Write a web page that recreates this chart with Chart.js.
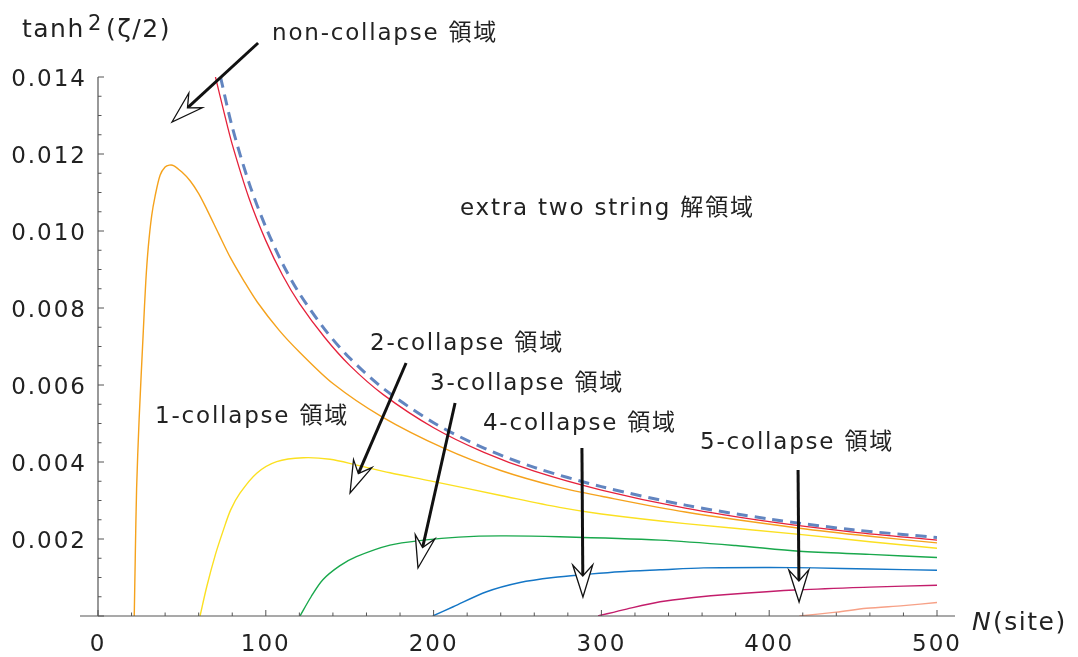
<!DOCTYPE html>
<html>
<head>
<meta charset="utf-8">
<script src="https://cdn.jsdelivr.net/npm/chart.js@4.4.1/dist/chart.umd.min.js"></script>
<style>
  html, body { margin: 0; padding: 0; background: #fff; }
  #wrap { width: 1078px; height: 657px; position: relative; }
</style>
</head>
<body>
<div id="wrap"><canvas id="chart"></canvas></div>
<script>
// curves: N (sites) and tanh^2(zeta/2)
const nRed = [70, 75, 80, 90, 100, 110, 120, 135, 150, 170, 200, 230, 260, 300, 350, 400, 450, 500];
const redVals = [0.0140, 0.0131, 0.01225, 0.01085, 0.00975, 0.00885, 0.00812, 0.00724, 0.00651, 0.00575, 0.00489, 0.00425, 0.00376, 0.00327, 0.0028, 0.00245, 0.00218, 0.00197];

const nDash = [73, 80, 90, 100, 110, 120, 135, 150, 170, 200, 230, 260, 300, 350, 400, 450, 500];
const dashVals = [0.0140, 0.0127, 0.01125, 0.0101, 0.00915, 0.00838, 0.00745, 0.0067, 0.00591, 0.00502, 0.00436, 0.00386, 0.00336, 0.00288, 0.00252, 0.00224, 0.00204];

const nOrange = [21.6, 22.2, 23, 24.5, 27, 28.5, 30, 32, 34, 37, 40, 42.5, 45, 50, 55, 60, 65, 72, 79, 87, 95, 108, 120, 140, 169, 206, 240, 275, 300, 350, 418, 460, 500];
const orangeVals = [0, 0.0015, 0.0033, 0.0051, 0.0074, 0.0087, 0.0096, 0.0104, 0.0109, 0.01145, 0.01166, 0.01171, 0.0117, 0.01153, 0.0113, 0.01097, 0.01055, 0.00992, 0.0093, 0.0087, 0.00815, 0.00742, 0.00686, 0.00604, 0.00518, 0.00436, 0.00378, 0.00334, 0.00311, 0.0027, 0.00228, 0.00207, 0.0019];

const nYellow = [60.8, 64.8, 70, 74.7, 79, 84.6, 94.6, 106.5, 122.4, 138.3, 154.2, 174, 198, 240, 275, 300, 350, 418, 460, 500];
const yellowVals = [0, 0.00076, 0.0016, 0.00223, 0.00275, 0.00319, 0.00371, 0.00401, 0.00411, 0.00407, 0.00392, 0.00372, 0.00351, 0.00313, 0.00282, 0.00265, 0.0024, 0.00212, 0.00193, 0.00176];

const nGreen = [120.4, 127, 134, 144, 154, 174, 194, 215, 240, 275, 335, 380, 418, 460, 500];
const greenVals = [0, 0.0005, 0.00094, 0.0013, 0.00154, 0.00184, 0.00197, 0.00205, 0.00208, 0.00206, 0.00197, 0.00183, 0.00168, 0.0016, 0.00152];

const nBlue = [199.5, 211.7, 231.6, 251.5, 271.3, 291, 311, 335, 361, 400, 427, 460, 500];
const blueVals = [0, 0.00024, 0.00063, 0.00087, 0.001, 0.00108, 0.00115, 0.0012, 0.00125, 0.00126, 0.00125, 0.00122, 0.00119];

const nMagenta = [298, 315, 335, 355, 375, 418, 460, 500];
const magentaVals = [0, 0.00018, 0.00037, 0.00048, 0.00056, 0.00068, 0.00075, 0.0008];

const nSalmon = [418, 440, 458, 480, 500];
const salmonVals = [0, 0.0001, 0.0002, 0.00027, 0.00035];

const xTicks = [0, 100, 200, 300, 400, 500];
const yTicks = [0.002, 0.004, 0.006, 0.008, 0.010, 0.012, 0.014];

// region labels and arrows, in data coordinates
const regionLabels = [
    { text: 'non-collapse 領域', x: 103.7, y: 0.01496 },
    { text: 'extra two string 解領域', x: 215.7, y: 0.010416 },
    { text: '2-collapse 領域', x: 162.1, y: 0.006909 },
    { text: '3-collapse 領域', x: 197.9, y: 0.00587 },
    { text: '1-collapse 領域', x: 34.0, y: 0.005013 },
    { text: '4-collapse 領域', x: 229.4, y: 0.004831 },
    { text: '5-collapse 領域', x: 358.8, y: 0.004338 }
];
const arrowTails = [[95.4, 0.014883], [183.6, 0.006571], [212.8, 0.005532], [288.4, 0.004364], [417.2, 0.003792]];
const arrowTips = [[44.1, 0.012831], [150.2, 0.003195], [190.7, 0.001247], [289.0, 0.000494], [417.8, 0.000364]];

const FONT = '"DejaVu Sans", Verdana, "Noto Sans CJK JP", sans-serif';
const INK = '#222';

function pts(xs, ys) {
    return xs.map((x, i) => ({ x: x, y: ys[i] }));
}

function curve(data, color, width, dash) {
    return {
        data: data,
        borderColor: color,
        borderWidth: width,
        borderDash: dash || [],
        pointRadius: 0,
        tension: 0.3,
        fill: false
    };
}

function drawArrow(ctx, x1, y1, x2, y2) {
    const len = Math.hypot(x2 - x1, y2 - y1);
    const ux = (x2 - x1) / len, uy = (y2 - y1) / len;
    const px = -uy, py = ux;
    const headLen = 32, notch = 21, half = 10;
    ctx.strokeStyle = '#111';
    ctx.lineWidth = 3;
    ctx.beginPath();
    ctx.moveTo(x1, y1);
    ctx.lineTo(x2 - ux * notch, y2 - uy * notch);
    ctx.stroke();
    const bx = x2 - ux * headLen, by = y2 - uy * headLen;
    ctx.beginPath();
    ctx.moveTo(x2, y2);
    ctx.lineTo(bx + px * half, by + py * half);
    ctx.lineTo(x2 - ux * notch, y2 - uy * notch);
    ctx.lineTo(bx - px * half, by - py * half);
    ctx.closePath();
    ctx.fillStyle = '#fff';
    ctx.fill();
    ctx.lineWidth = 1.3;
    ctx.stroke();
}

const axesPlugin = {
    id: 'mmaAxes',
    beforeDraw(chart) {
        chart.ctx.letterSpacing = '2px';
    },
    afterDatasetsDraw(chart) {
        const { ctx, scales: { x, y } } = chart;
        const x0 = x.getPixelForValue(0), y0 = y.getPixelForValue(0);
        ctx.save();

        // axis lines, Mathematica style (crossing at origin)
        ctx.strokeStyle = '#555';
        ctx.lineWidth = 1.2;
        ctx.beginPath();
        ctx.moveTo(x0 - 18, y0);
        ctx.lineTo(x.getPixelForValue(500) + 18, y0);
        ctx.moveTo(x0, y0);
        ctx.lineTo(x0, y.getPixelForValue(0.014));
        ctx.stroke();

        // inward ticks: major + minor
        ctx.lineWidth = 1;
        ctx.beginPath();
        for (let v = 0; v <= 500; v += 20) {
            const p = x.getPixelForValue(v);
            const l = v % 100 === 0 ? 6 : 3.5;
            ctx.moveTo(p, y0);
            ctx.lineTo(p, y0 - l);
        }
        for (let k = 0; k <= 28; k++) {
            const p = y.getPixelForValue(k * 0.0005);
            const l = k % 4 === 0 ? 6 : 3.5;
            ctx.moveTo(x0, p);
            ctx.lineTo(x0 + l, p);
        }
        ctx.stroke();

        // arrows
        arrowTails.forEach((t, i) => {
            const h = arrowTips[i];
            drawArrow(ctx, x.getPixelForValue(t[0]), y.getPixelForValue(t[1]),
                x.getPixelForValue(h[0]), y.getPixelForValue(h[1]));
        });

        // region labels
        ctx.fillStyle = INK;
        ctx.letterSpacing = '1.8px';
        ctx.textAlign = 'left';
        ctx.textBaseline = 'alphabetic';
        ctx.font = '23px ' + FONT;
        regionLabels.forEach(l => {
            ctx.fillText(l.text, x.getPixelForValue(l.x), y.getPixelForValue(l.y));
        });

        // axis titles
        ctx.letterSpacing = '1.5px';
        ctx.font = '25px ' + FONT;
        ctx.fillText('tanh', 22, 37);
        ctx.font = '21px ' + FONT;
        ctx.fillText('2', 88, 30);
        ctx.font = '25px ' + FONT;
        ctx.fillText('(ζ/2)', 106, 37);

        ctx.font = 'italic 25px ' + FONT;
        ctx.fillText('N', 972, 630);
        ctx.font = '25px ' + FONT;
        ctx.fillText('(site)', 993, 630);

        ctx.restore();
    }
};

const ctx = document.getElementById('chart').getContext('2d');
const chart = new Chart(ctx, {
    type: 'line',
    data: {
        datasets: [
            curve(pts(nOrange, orangeVals), '#f5a21c', 1.4),
            curve(pts(nYellow, yellowVals), '#fbe021', 1.4),
            curve(pts(nGreen, greenVals), '#19a84c', 1.4),
            curve(pts(nBlue, blueVals), '#1476c6', 1.4),
            curve(pts(nMagenta, magentaVals), '#c31d6b', 1.4),
            curve(pts(nSalmon, salmonVals), '#f7a187', 1.4),
            curve(pts(nRed, redVals), '#e5213b', 1.3),
            curve(pts(nDash, dashVals), '#6285c0', 3, [11, 7])
        ]
    },
    options: {
        responsive: true,
        maintainAspectRatio: false,
        animation: false,
        events: [],
        layout: { padding: { top: 77, right: 141, left: 0, bottom: 0 } },
        plugins: {
            legend: { display: false },
            tooltip: { enabled: false }
        },
        scales: {
            x: {
                type: 'linear',
                min: 0,
                max: 500,
                grid: { display: false, drawTicks: false },
                border: { display: false },
                afterBuildTicks: s => { s.ticks = xTicks.map(v => ({ value: v })); },
                afterFit: s => { s.height = 41; },
                ticks: {
                    autoSkip: false,
                    maxRotation: 0,
                    padding: 15,
                    color: INK,
                    font: { family: FONT, size: 23 },
                    callback: v => String(v)
                }
            },
            y: {
                min: 0,
                max: 0.014,
                grid: { display: false, drawTicks: false },
                border: { display: false },
                afterBuildTicks: s => { s.ticks = yTicks.map(v => ({ value: v })); },
                afterFit: s => { s.width = 98; },
                ticks: {
                    padding: 11,
                    labelOffset: 3,
                    color: INK,
                    font: { family: FONT, size: 23 },
                    callback: v => Number(v).toFixed(3)
                }
            }
        }
    },
    plugins: [axesPlugin]
});
</script>
</body>
</html>
